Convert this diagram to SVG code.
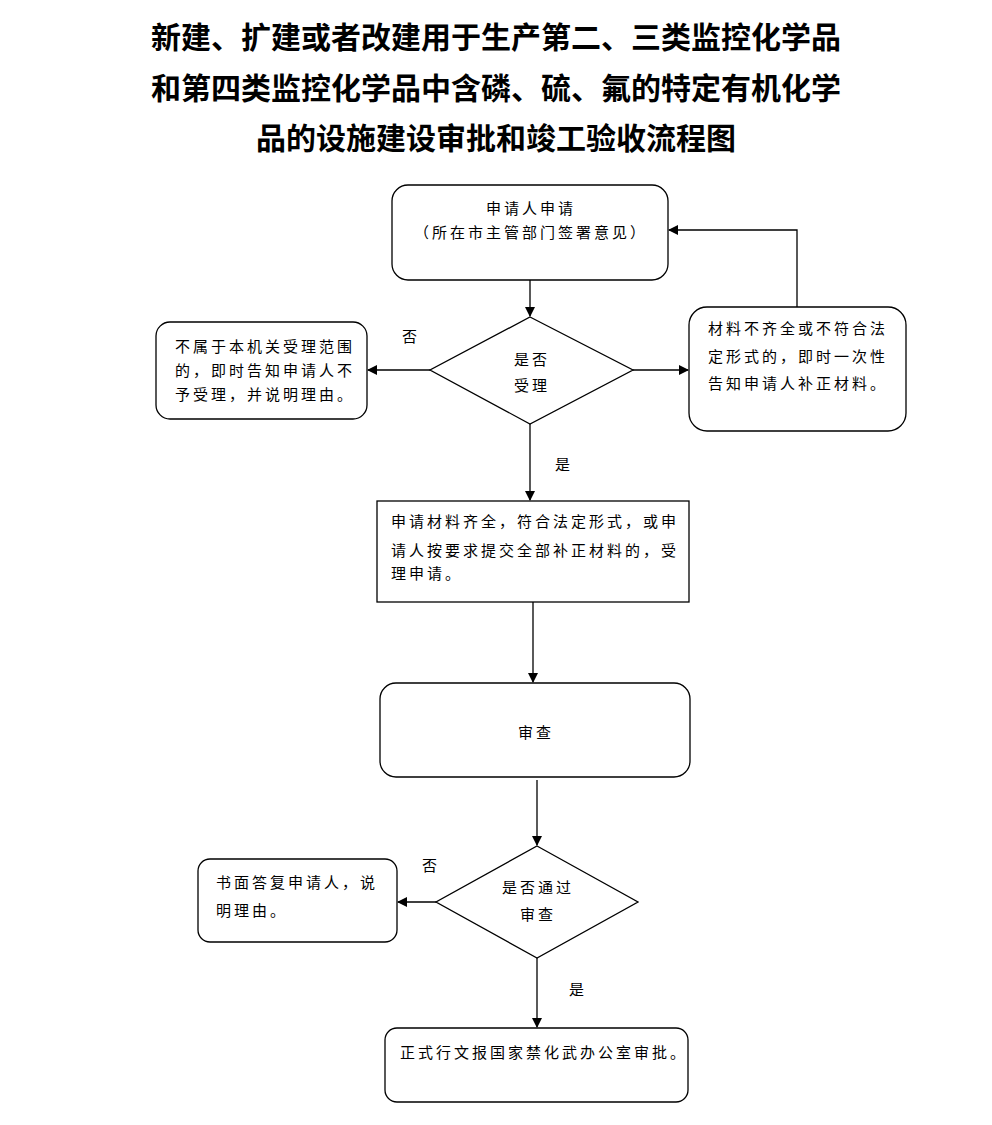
<svg xmlns="http://www.w3.org/2000/svg" width="992" height="1125" viewBox="0 0 992 1125">
<defs>
<marker id="ah" markerWidth="10" markerHeight="10" refX="9" refY="5" orient="auto" markerUnits="userSpaceOnUse">
<path d="M0,0 L10,5 L0,10 Z" fill="#000"/>
</marker>
<style>
.t{font-family:"Liberation Sans","Noto Sans CJK SC",sans-serif;font-size:30px;font-weight:bold;fill:#000;text-anchor:middle}
.s{font-family:"Liberation Sans","Noto Sans CJK SC",sans-serif;font-size:15px;fill:#000;letter-spacing:3px}
.c{text-anchor:middle}
.b{fill:#fff;stroke:#000;stroke-width:1.3}
.l{fill:none;stroke:#000;stroke-width:1.3;marker-end:url(#ah)}
</style>
</defs>
<rect width="992" height="1125" fill="#fff"/>
<g id="title">
<text class="t" x="496" y="48">新建、扩建或者改建用于生产第二、三类监控化学品</text>
<text class="t" x="496" y="99">和第四类监控化学品中含磷、硫、氟的特定有机化学</text>
<text class="t" x="496" y="149">品的设施建设审批和竣工验收流程图</text>
</g>
<g id="connectors">
<path class="l" d="M530,280 L530,316"/>
<path class="l" d="M430,370 L368,370"/>
<path class="l" d="M633,370 L688,370"/>
<path class="l" d="M797,307 L797,230 L669,230"/>
<path class="l" d="M530,424 L530,500"/>
<path class="l" d="M533,602 L533,682"/>
<path class="l" d="M537,780 L537,845"/>
<path class="l" d="M436,902 L398,902"/>
<path class="l" d="M537,958 L537,1027"/>
<text class="s" x="402" y="342">否</text>
<text class="s" x="555" y="470">是</text>
<text class="s" x="422" y="871">否</text>
<text class="s" x="569" y="995">是</text>
</g>
<g id="n1">
<rect class="b" x="392" y="185" width="276" height="95" rx="16"/>
<text class="s c" x="531" y="214">申请人申请</text>
<text class="s c" x="531" y="238">（所在市主管部门签署意见）</text>
</g>
<g id="n2">
<path class="b" d="M530,317 L633,370 L530,424 L430,370 Z"/>
<text class="s c" x="532" y="365">是否</text>
<text class="s c" x="532" y="391">受理</text>
</g>
<g id="n3">
<rect class="b" x="156" y="322" width="211" height="97" rx="14"/>
<text class="s" x="175" y="352">不属于本机关受理范围</text>
<text class="s" x="175" y="376">的，即时告知申请人不</text>
<text class="s" x="175" y="400">予受理，并说明理由。</text>
</g>
<g id="n4">
<rect class="b" x="689" y="307" width="217" height="124" rx="18"/>
<text class="s" x="708" y="334">材料不齐全或不符合法</text>
<text class="s" x="708" y="362">定形式的，即时一次性</text>
<text class="s" x="708" y="389">告知申请人补正材料。</text>
</g>
<g id="n5">
<rect class="b" x="377" y="501" width="312" height="101"/>
<text class="s" x="391" y="527">申请材料齐全，符合法定形式，或申</text>
<text class="s" x="391" y="556">请人按要求提交全部补正材料的，受</text>
<text class="s" x="391" y="579">理申请。</text>
</g>
<g id="n6">
<rect class="b" x="380" y="683" width="310" height="94" rx="16"/>
<text class="s c" x="536" y="738">审查</text>
</g>
<g id="n7">
<path class="b" d="M537,846 L638,902 L537,958 L436,902 Z"/>
<text class="s c" x="538" y="893">是否通过</text>
<text class="s c" x="538" y="920">审查</text>
</g>
<g id="n8">
<rect class="b" x="198" y="859" width="199" height="83" rx="12"/>
<text class="s" x="216" y="888">书面答复申请人，说</text>
<text class="s" x="216" y="916">明理由。</text>
</g>
<g id="n9">
<rect class="b" x="385" y="1028" width="303" height="74" rx="12"/>
<text class="s" x="400" y="1058">正式行文报国家禁化武办公室审批。</text>
</g>
</svg>
